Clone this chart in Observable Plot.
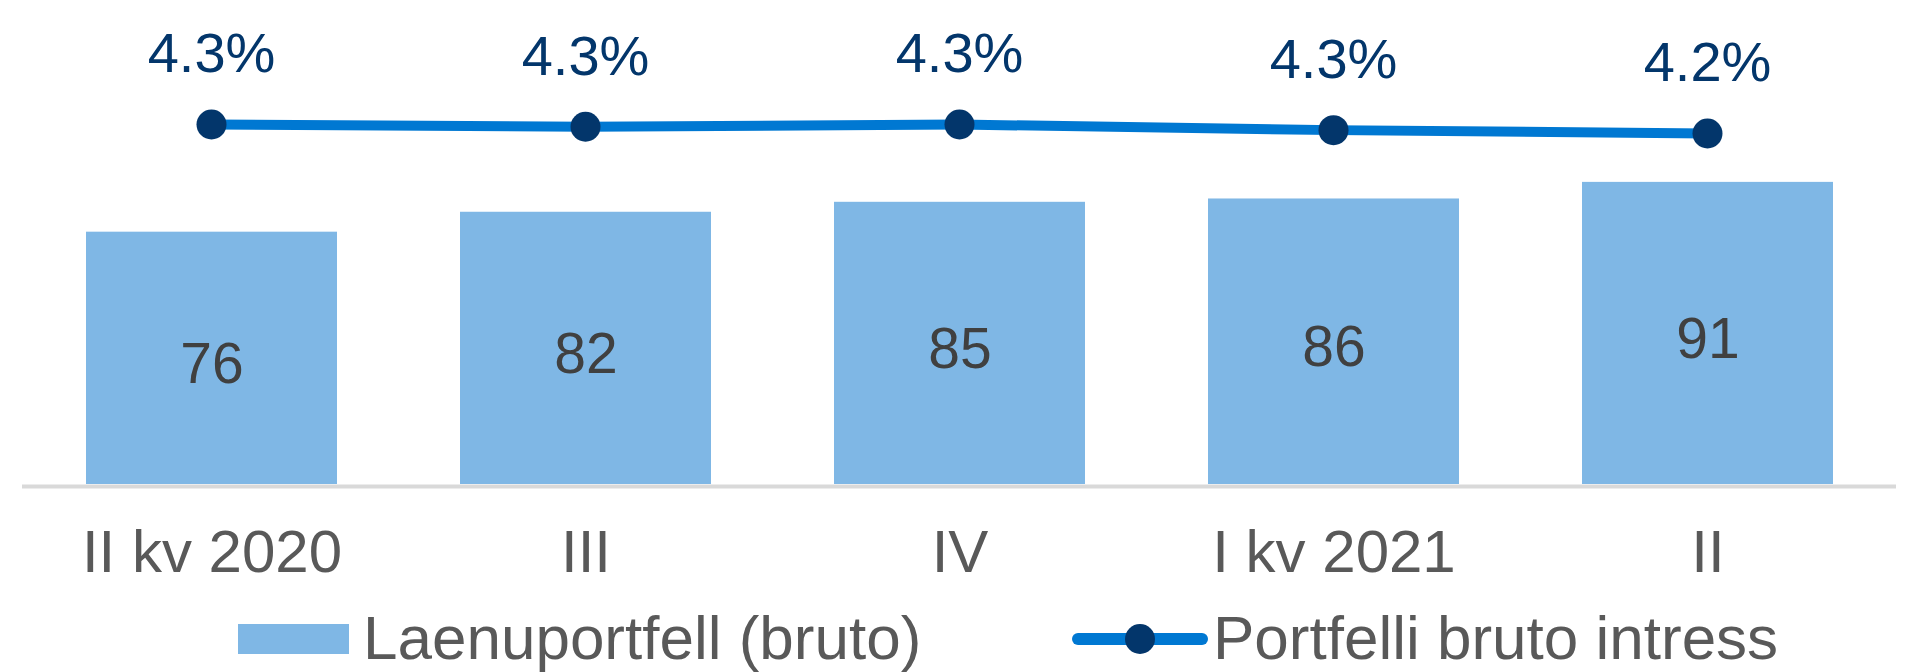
<!DOCTYPE html>
<html>
<head>
<meta charset="utf-8">
<script src="https://cdn.jsdelivr.net/npm/d3@7"></script>
<script src="https://cdn.jsdelivr.net/npm/@observablehq/plot@0.6"></script>
<style>
  body { margin: 0; background: #fff; font-family: "Liberation Sans", Arial, sans-serif; }
  #wrap { position: relative; width: 1906px; height: 600px; }
  #wrap svg { position: absolute; left: 0; top: 0; }
  #legend { position: relative; width: 1906px; height: 72px; }
  .sw { position: absolute; }
  .lt { position: absolute; top: 2px; font-size: 62px; line-height: 72px; color: #595959; white-space: nowrap; }
</style>
</head>
<body>
<div id="wrap"></div>
<div id="legend">
  <div class="sw" style="left:238px;top:24px;width:111px;height:30px;background:#7FB7E5;"></div>
  <div class="lt" style="left:363px;">Laenuportfell (bruto)</div>
  <svg class="sw" style="left:1070px;top:0px;" width="140" height="72">
    <line x1="8" y1="39" x2="132" y2="39" stroke="#0078D2" stroke-width="12" stroke-linecap="round"></line>
    <circle cx="70" cy="39" r="15" fill="#03366B"></circle>
  </svg>
  <div class="lt" style="left:1213px;">Portfelli bruto intress</div>
</div>
<script>
const quarters = ["II kv 2020", "III", "IV", "I kv 2021", "II"];
const portfolio = [76, 82, 85, 86, 91];
const rate = [4.32, 4.30, 4.32, 4.27, 4.24];
const rateLabels = ["4.3%", "4.3%", "4.3%", "4.3%", "4.2%"];

const rows = quarters.map((q, i) => ({q, portfolio: portfolio[i], rate: rate[i], label: rateLabels[i]}));

const common = {
  width: 1906, height: 600,
  marginLeft: 22, marginRight: 10, marginTop: 152, marginBottom: 116,
  style: {fontFamily: "'Liberation Sans', Arial, sans-serif", background: "transparent"}
};
const xOpts = {domain: quarters, paddingInner: 0.33, paddingOuter: 0.165, label: null};

const bars = Plot.plot({
  ...common,
  x: {...xOpts},
  y: {domain: [0, 100], axis: null},
  marks: [
    Plot.barY(rows, {x: "q", y: "portfolio", fill: "#7FB7E5"}),
    Plot.ruleY([0], {stroke: "#D9D9D9", strokeWidth: 4, dy: 2}),
    Plot.text(rows, {x: "q", y: d => d.portfolio / 2, text: d => String(d.portfolio), fill: "#404040", fontSize: 57, dy: 6}),
    Plot.axisX({tickSize: 0, tickPadding: 45, fontSize: 60, fill: "#595959", label: null})
  ]
});

const lines = Plot.plot({
  ...common,
  x: {...xOpts, axis: null},
  y: {domain: [4.24, 4.32], range: [133, 124], axis: null},
  marks: [
    Plot.line(rows, {x: "q", y: "rate", stroke: "#0078D2", strokeWidth: 10}),
    Plot.dot(rows, {x: "q", y: "rate", r: 15, fill: "#03366B", stroke: "none"}),
    Plot.text(rows, {x: "q", y: "rate", text: "label", dy: -70, fontSize: 56, fill: "#03366B"})
  ]
});

const wrap = document.getElementById("wrap");
wrap.appendChild(bars);
wrap.appendChild(lines);
</script>
</body>
</html>
